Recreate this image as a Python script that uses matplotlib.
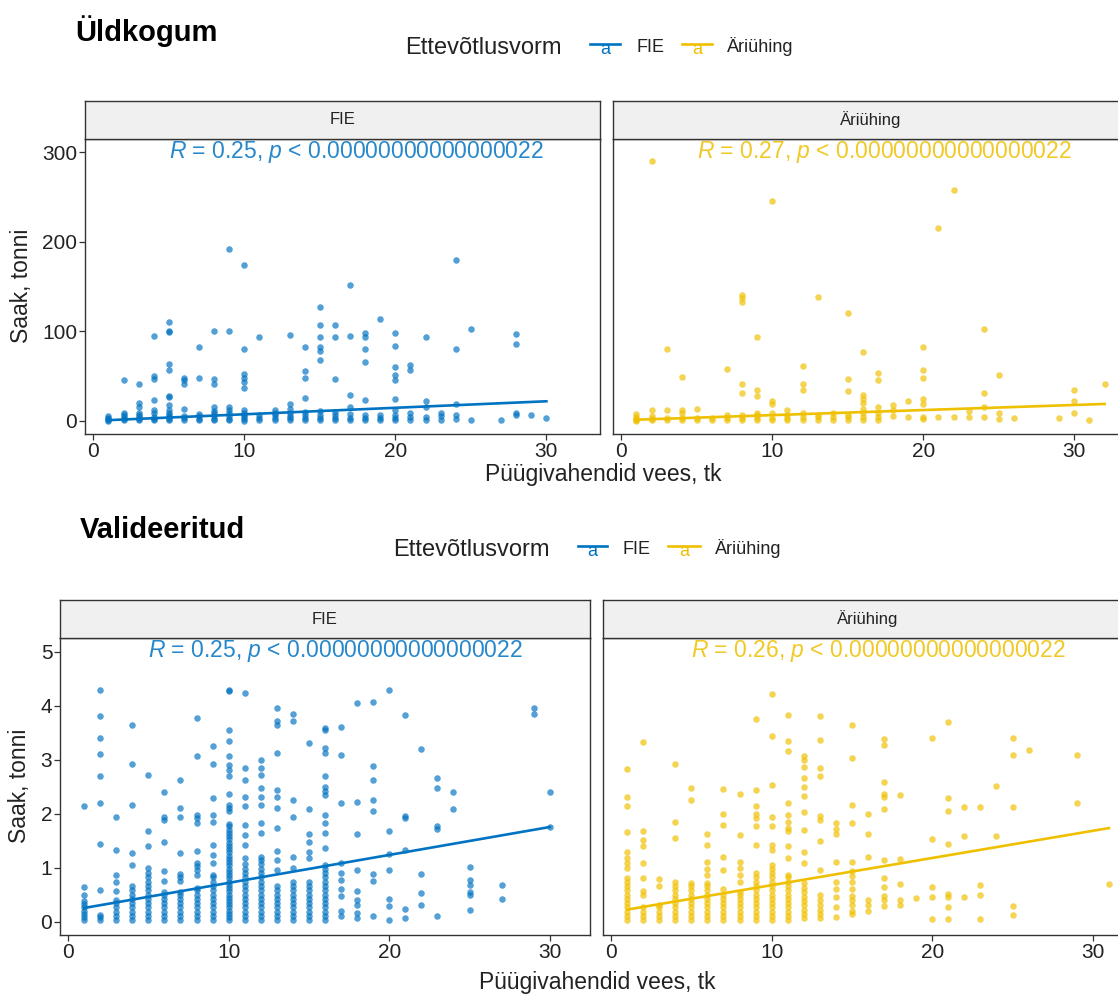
import matplotlib
matplotlib.use("Agg")
import matplotlib.pyplot as plt
from matplotlib.lines import Line2D

plt.rcParams['font.family'] = ['Liberation Sans', 'DejaVu Sans']
plt.rcParams['mathtext.fontset'] = 'custom'
plt.rcParams['mathtext.rm'] = 'Liberation Sans'
plt.rcParams['mathtext.it'] = 'Liberation Sans:italic'

BLUE = '#0073C2'
YELLOW = '#EFC000'

# --- Üldkogum, FIE: x = fishing gear count, y = catch (t) per column
top_fie_x = [1, 2, 3, 4, 5, 6, 7, 8, 9, 10, 11, 12, 13, 14, 15, 16, 17, 18, 19, 20,
             21, 22, 23, 24, 25, 27, 28, 29, 30]
top_fie_y = [
    [0, 1, 2, 3, 5],
    [1, 2, 4, 6, 9, 45],
    [1, 2, 4, 6, 9, 15, 20, 41],
    [1, 2, 4, 8, 12, 23, 47, 50, 95],
    [1, 2, 4, 6, 8, 12, 17, 26, 28, 57, 63, 99, 100, 110],
    [1, 3, 5, 13, 41, 45, 48],
    [1, 2, 5, 7, 48, 82],
    [1, 2, 5, 8, 11, 15, 41, 47, 100],
    [1, 2, 5, 9, 12, 15, 100, 192],
    [0, 2, 4, 6, 8, 12, 37, 43, 48, 52, 80, 174],
    [1, 3, 6, 93],
    [1, 3, 6, 9, 12],
    [1, 3, 5, 8, 13, 19, 96],
    [1, 3, 6, 10, 25, 48, 56, 82],
    [1, 3, 6, 11, 68, 78, 82, 93, 107, 127],
    [1, 3, 6, 10, 46, 93, 107],
    [1, 3, 7, 15, 29, 95, 152],
    [1, 3, 6, 23, 65, 80, 93, 98],
    [1, 3, 6, 114],
    [1, 3, 6, 12, 24, 45, 51, 60, 84, 98],
    [1, 4, 9, 57, 62],
    [1, 4, 15, 22, 93],
    [1, 5, 9],
    [2, 6, 19, 80, 180],
    [1, 103],
    [1],
    [6, 9, 86, 97],
    [6],
    [3],
]

# --- Üldkogum, Äriühing
top_ari_x = [1, 2, 3, 4, 5, 6, 7, 8, 9, 10, 11, 12, 13, 14, 15, 16, 17, 18, 19, 20,
             21, 22, 23, 24, 25, 26, 29, 30, 31, 32]
top_ari_y = [
    [0, 1, 2, 4, 7],
    [1, 2, 5, 12, 290],
    [1, 3, 12, 80],
    [1, 3, 8, 12, 49],
    [1, 3, 13],
    [1, 3],
    [1, 3, 6, 58],
    [1, 3, 6, 31, 41, 133, 137, 141],
    [1, 3, 6, 9, 27, 34, 93],
    [1, 3, 9, 19, 22, 246],
    [1, 3, 6, 12],
    [1, 4, 9, 34, 41, 61],
    [1, 4, 6, 138],
    [1, 4, 9],
    [1, 4, 6, 33, 46, 120],
    [1, 4, 8, 13, 20, 24, 29, 77],
    [1, 4, 8, 15, 45, 53],
    [5, 12, 18],
    [4, 22],
    [2, 4, 19, 24, 48, 57, 82],
    [4, 216],
    [4, 258],
    [4, 11],
    [4, 15, 31, 102],
    [2, 9, 51],
    [3],
    [3],
    [8, 22, 34],
    [1],
    [41],
]

# --- Valideeritud, FIE
val_fie_x = [1, 2, 3, 4, 5, 6, 7, 8, 9, 10, 11, 12, 13, 14, 15, 16, 17, 18, 19, 20,
             21, 22, 23, 24, 25, 27, 29, 30]
val_fie_y = [
    [0.02, 0.08, 0.14, 0.2, 0.26, 0.32, 0.38, 0.5, 0.63, 2.14],
    [0.03, 0.08, 0.12, 0.59, 1.44, 2.19, 2.69, 3.11, 3.4, 3.8, 4.29],
    [0.02, 0.1, 0.18, 0.26, 0.34, 0.4, 0.57, 0.74, 0.86, 1.33, 1.93],
    [0.02, 0.1, 0.18, 0.26, 0.34, 0.42, 0.5, 0.58, 0.66, 1.04, 1.27, 2.16, 2.91, 3.63],
    [0.02, 0.1, 0.18, 0.26, 0.34, 0.42, 0.5, 0.58, 0.66, 0.74, 0.82, 0.9, 1.0, 1.39,
     1.68, 2.71],
    [0.02, 0.1, 0.18, 0.26, 0.34, 0.42, 0.5, 0.55, 0.75, 0.93, 1.48, 1.88, 1.93, 2.4],
    [0.02, 0.1, 0.18, 0.26, 0.34, 0.42, 0.5, 0.55, 0.75, 0.82, 0.88, 1.27, 1.93, 2.1,
     2.62],
    [0.02, 0.1, 0.18, 0.26, 0.34, 0.42, 0.5, 0.58, 0.62, 0.87, 0.95, 1.02, 1.08, 1.3,
     1.82, 1.91, 1.98, 3.06, 3.77],
    [0.02, 0.1, 0.18, 0.26, 0.34, 0.42, 0.5, 0.58, 0.66, 0.74, 0.82, 0.86, 1.08, 1.23,
     1.41, 1.85, 1.98, 2.28, 2.91, 3.25],
    [0.02, 0.08, 0.14, 0.2, 0.26, 0.32, 0.38, 0.44, 0.5, 0.56, 0.62, 0.68, 0.74, 0.8,
     0.86, 0.92, 0.98, 1.04, 1.1, 1.16, 1.22, 1.28, 1.34, 1.4, 1.46, 1.52, 1.58, 1.64,
     1.7, 1.76, 1.8, 2.04, 2.1, 2.16, 2.36, 2.69, 2.8, 2.9, 3.06, 3.35, 3.54, 4.26, 4.28],
    [0.02, 0.1, 0.18, 0.26, 0.34, 0.42, 0.5, 0.58, 0.66, 0.74, 0.82, 0.9, 0.98, 1.06,
     1.17, 1.42, 1.6, 1.79, 2.13, 2.3, 2.62, 2.85, 4.24],
    [0.02, 0.1, 0.18, 0.26, 0.34, 0.42, 0.5, 0.58, 0.66, 0.74, 0.82, 0.9, 0.98, 1.06,
     1.14, 1.2, 1.64, 1.82, 2.16, 2.31, 2.47, 2.72, 2.84, 2.99],
    [0.02, 0.1, 0.18, 0.26, 0.34, 0.42, 0.5, 0.58, 0.66, 0.96, 1.13, 1.31, 1.73, 2.1,
     2.3, 2.44, 3.12, 3.64, 3.72, 3.95],
    [0.02, 0.1, 0.18, 0.26, 0.34, 0.42, 0.5, 0.58, 0.66, 0.74, 0.99, 1.19, 1.93, 2.25,
     3.72, 3.84],
    [0.02, 0.1, 0.18, 0.26, 0.34, 0.42, 0.5, 0.58, 0.66, 0.74, 1.17, 1.28, 1.48, 1.62,
     2.08, 3.31],
    [0.02, 0.1, 0.18, 0.26, 0.34, 0.42, 0.5, 0.58, 0.66, 0.74, 0.82, 0.9, 0.98, 1.05,
     1.36, 1.64, 1.82, 1.98, 2.35, 2.41, 2.5, 2.69, 3.12, 3.22, 3.54, 3.59],
    [0.1, 0.2, 0.48, 0.6, 0.77, 0.9, 1.08, 2.19, 3.09, 3.6],
    [0.07, 0.15, 0.3, 0.4, 0.56, 0.96, 1.62, 2.22, 4.04],
    [0.11, 0.75, 0.88, 2.05, 2.25, 2.62, 2.88, 4.06],
    [0.03, 0.28, 0.41, 0.96, 1.25, 1.67, 4.29],
    [0.06, 0.23, 1.33, 1.91, 1.96, 3.83],
    [0.31, 0.52, 0.88, 3.2],
    [0.11, 1.71, 1.76, 2.48, 2.65],
    [2.08, 2.39],
    [0.21, 0.49, 0.55, 0.67, 0.77, 1.01],
    [0.41, 0.67],
    [3.84, 3.95],
    [1.75, 2.39],
]

# --- Valideeritud, Äriühing
val_ari_x = [1, 2, 3, 4, 5, 6, 7, 8, 9, 10, 11, 12, 13, 14, 15, 16, 17, 18, 19, 20,
             21, 22, 23, 24, 25, 26, 29, 31]
val_ari_y = [
    [0.02, 0.1, 0.18, 0.26, 0.34, 0.42, 0.5, 0.58, 0.66, 0.74, 0.8, 0.99, 1.09, 1.17,
     1.28, 1.65, 2.14, 2.31, 2.83],
    [0.02, 0.1, 0.18, 0.26, 0.49, 0.56, 0.81, 1.08, 1.39, 1.51, 1.67, 3.32],
    [0.02, 0.1, 0.18, 0.26, 0.3, 0.65, 0.79],
    [0.02, 0.1, 0.18, 0.26, 0.34, 0.42, 0.5, 0.58, 0.66, 0.74, 1.54, 1.85, 2.91],
    [0.02, 0.1, 0.18, 0.26, 0.34, 0.42, 0.5, 0.58, 0.66, 0.71, 2.25, 2.48],
    [0.02, 0.1, 0.18, 0.26, 0.34, 0.42, 0.5, 0.58, 0.66, 0.71, 0.86, 0.98, 1.11, 1.42,
     1.62],
    [0.02, 0.1, 0.18, 0.26, 0.34, 0.42, 0.5, 0.6, 0.96, 1.2, 1.79, 1.99, 2.45],
    [0.02, 0.1, 0.18, 0.26, 0.34, 0.42, 0.5, 0.55, 0.74, 0.86, 1.0, 1.11, 1.6, 2.36],
    [0.02, 0.1, 0.18, 0.26, 0.34, 0.42, 0.5, 0.58, 0.66, 0.74, 0.82, 0.9, 1.41, 1.77,
     1.91, 2.0, 2.14, 2.43, 3.75],
    [0.02, 0.1, 0.18, 0.26, 0.34, 0.42, 0.5, 0.58, 0.66, 0.74, 0.82, 0.9, 0.98, 1.05,
     1.33, 1.42, 1.76, 1.93, 2.53, 3.43, 4.21],
    [0.02, 0.1, 0.18, 0.26, 0.34, 0.42, 0.5, 0.58, 0.66, 0.74, 0.82, 0.86, 1.17, 1.39,
     1.67, 1.73, 1.85, 1.98, 2.19, 3.15, 3.35, 3.83],
    [0.06, 0.14, 0.22, 0.3, 0.38, 0.46, 0.54, 0.62, 0.71, 1.08, 1.28, 1.7, 2.02, 2.33,
     2.5, 2.65, 2.87, 2.99, 3.06],
    [0.06, 0.14, 0.22, 0.3, 0.4, 0.5, 0.96, 1.5, 1.88, 1.96, 2.7, 2.85, 3.36, 3.81],
    [0.08, 0.27, 0.45, 0.6, 0.74, 1.11, 1.62, 1.72, 1.82],
    [0.13, 0.2, 0.3, 0.4, 0.48, 0.6, 0.73, 0.84, 0.93, 1.1, 1.82, 2.16, 3.02, 3.63],
    [0.19, 0.3, 0.4, 1.2, 1.62, 1.99],
    [0.28, 0.4, 0.48, 0.64, 0.8, 1.13, 2.08, 2.31, 2.36, 2.59, 3.26, 3.38],
    [0.31, 0.4, 0.7, 1.16, 2.35],
    [0.44],
    [0.04, 0.46, 0.63, 1.53, 3.4],
    [0.05, 0.27, 0.46, 0.51, 1.44, 2.05, 2.28, 3.69],
    [0.46, 1.59, 2.12],
    [0.05, 0.49, 0.68, 2.12],
    [1.59, 2.51],
    [0.12, 0.28, 2.12, 3.09, 3.4],
    [3.17],
    [2.19, 3.09],
    [0.7],
]

# regression lines (x ends, y ends)
top_fie_line = ([1, 30], [0.5, 21.6])
top_ari_line = ([1, 32], [1.0, 18.6])
val_fie_line = ([1, 30], [0.25, 1.75])
val_ari_line = ([1, 31], [0.22, 1.73])

r_values = {'top_fie': '0.25', 'top_ari': '0.27', 'val_fie': '0.25', 'val_ari': '0.26'}
P_TEXT = '0.00000000000000022'

W, H = 1118, 994
fig = plt.figure(figsize=(W / 100, H / 100), dpi=100)


def box(l, t, r, b):
    return [l / W, 1 - b / H, (r - l) / W, (b - t) / H]


def fxy(x, y):
    return x / W, 1 - y / H


def panel(rect, strip_rect, xlim, ylim, yticks, xs, ys, color, line, r_txt,
          label_y, strip_name, show_y=True):
    ax = fig.add_axes(box(*rect))
    for x, col in zip(xs, ys):
        ax.scatter([x] * len(col), col, s=22, color=color, alpha=0.68,
                   linewidths=0, zorder=2)
    ax.plot(line[0], line[1], color=color, lw=1.9, zorder=3)
    ax.text(5, label_y, r'$R$ = ' + r_txt + r', $p$ < ' + P_TEXT, color=color,
            fontsize=16.5, ha='left', va='center', alpha=0.85)
    ax.set_xlim(*xlim)
    ax.set_ylim(*ylim)
    ax.set_xticks([0, 10, 20, 30])
    ax.set_yticks(yticks)
    ax.tick_params(direction='out', length=4, width=0.9, color='#333333',
                   labelsize=15, labelcolor='#222222', pad=1.5)
    if not show_y:
        ax.tick_params(axis='y', left=False, labelleft=False)
    for sp in ax.spines.values():
        sp.set_linewidth(1.0)
        sp.set_color('#333333')
    st = fig.add_axes(box(*strip_rect))
    st.set_facecolor('#F0F0F0')
    st.set_xticks([])
    st.set_yticks([])
    for sp in st.spines.values():
        sp.set_linewidth(1.0)
        sp.set_color('#333333')
    st.text(0.5, 0.5, strip_name, transform=st.transAxes, ha='center', va='center',
            fontsize=12, color='#222222')
    return ax


def legend(y, title_x, k1, t1, k2, t2):
    fig.text(*fxy(title_x, y), 'Ettevõtlusvorm', fontsize=17, ha='left', va='center',
             color='#222222')
    for (x0, x1), tx, name, c in [(k1, t1, 'FIE', BLUE), (k2, t2, 'Äriühing', YELLOW)]:
        fig.add_artist(Line2D([x0 / W, x1 / W], [1 - (y - 4) / H] * 2,
                              transform=fig.transFigure, color=c, lw=1.9))
        fig.text(*fxy((x0 + x1) / 2, y + 1), 'a', color=c, fontsize=13, ha='center',
                 va='center')
        fig.text(*fxy(tx, y - 1), name, fontsize=13, ha='left', va='center',
                 color='#222222')


# --- top block: Üldkogum
top_xlim = (-0.55, 33.55)
top_ylim = (-15, 315)
panel((85, 139, 600, 434), (85, 101, 600, 139), top_xlim, top_ylim, [0, 100, 200, 300],
      top_fie_x, top_fie_y, BLUE, top_fie_line, r_values['top_fie'], 300, 'FIE')
panel((613, 139, 1128, 434), (613, 101, 1128, 139), top_xlim, top_ylim, [0, 100, 200, 300],
      top_ari_x, top_ari_y, YELLOW, top_ari_line, r_values['top_ari'], 300, 'Äriühing',
      show_y=False)
fig.text(*fxy(75, 31), 'Üldkogum', fontsize=21, fontweight='bold', ha='left', va='center')
legend(48, 405, (590, 620), 636, (682, 712), 727)
fig.text(*fxy(603, 474), 'Püügivahendid vees, tk', fontsize=16.5, ha='center', va='center',
         color='#222222')
fig.text(*fxy(22, 286), 'Saak, tonni', fontsize=16.5, rotation=90, ha='center',
         va='center', color='#222222')

# --- bottom block: Valideeritud
val_xlim = (-0.5, 32.5)
val_ylim = (-0.25, 5.25)
panel((60, 638, 590, 935), (60, 600, 590, 638), val_xlim, val_ylim, [0, 1, 2, 3, 4, 5],
      val_fie_x, val_fie_y, BLUE, val_fie_line, r_values['val_fie'], 5.0, 'FIE')
panel((603, 638, 1133, 935), (603, 600, 1133, 638), val_xlim, val_ylim, [0, 1, 2, 3, 4, 5],
      val_ari_x, val_ari_y, YELLOW, val_ari_line, r_values['val_ari'], 5.0, 'Äriühing',
      show_y=False)
fig.text(*fxy(80, 530), 'Valideeritud', fontsize=21, fontweight='bold', ha='left',
         va='center')
legend(550, 393, (578, 607), 623, (668, 700), 715)
fig.text(*fxy(597, 983), 'Püügivahendid vees, tk', fontsize=16.5, ha='center', va='center',
         color='#222222')
fig.text(*fxy(20, 786), 'Saak, tonni', fontsize=16.5, rotation=90, ha='center',
         va='center', color='#222222')

fig.savefig('out.png', dpi=100, facecolor='white')
